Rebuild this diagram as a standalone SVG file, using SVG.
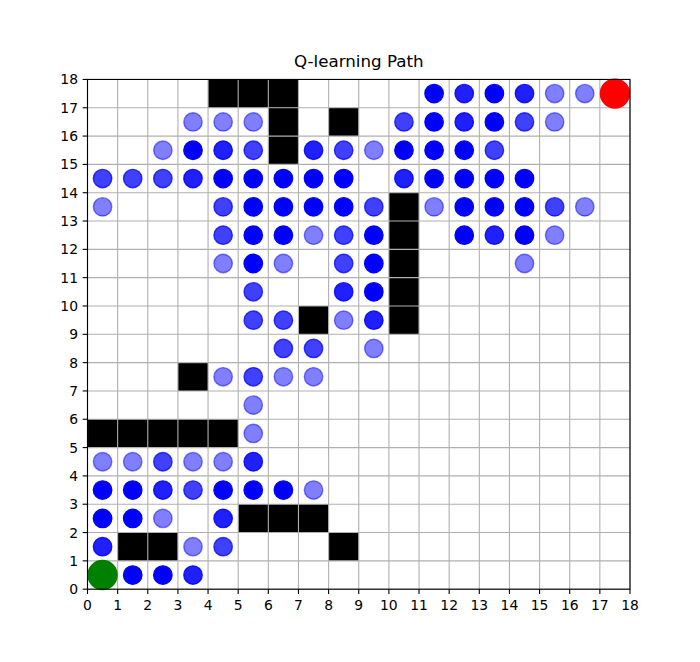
<svg xmlns="http://www.w3.org/2000/svg" width="700" height="662" viewBox="0 0 700 662">
<style>
text{font-family:"DejaVu Sans","Liberation Sans",sans-serif;fill:#000}
.tk{font-size:13.9px}
.xl{text-anchor:middle}
.yl{text-anchor:end}
.grid line{stroke:#b0b0b0;stroke-width:1.1}
.ticks line{stroke:#000;stroke-width:1.1}
.obs rect{fill:#000}
.dots circle{r:9.2px;stroke:#00f;stroke-width:1.39;fill:#00f}
.a1{fill-opacity:.5;stroke-opacity:.5}
.a2{fill-opacity:.75;stroke-opacity:.75}
.a3{fill-opacity:.875;stroke-opacity:.875}
.a4{fill-opacity:1;stroke-opacity:1}
</style>
<rect width="700" height="662" fill="#fff"/>
<text x="358.75" y="67" font-size="16.7" text-anchor="middle">Q-learning Path</text>
<g id="obstacles" class="obs">
<rect x="208.06" y="79.44" width="90.41" height="28.32"/>
<rect x="268.33" y="107.76" width="30.14" height="56.63"/>
<rect x="328.61" y="107.76" width="30.14" height="28.32"/>
<rect x="388.89" y="192.71" width="30.14" height="141.6"/>
<rect x="298.47" y="305.99" width="30.14" height="28.32"/>
<rect x="177.92" y="362.63" width="30.14" height="28.32"/>
<rect x="87.5" y="419.27" width="150.69" height="28.31"/>
<rect x="238.19" y="504.22" width="90.42" height="28.32"/>
<rect x="117.64" y="532.54" width="60.28" height="28.32"/>
<rect x="328.61" y="532.54" width="30.14" height="28.32"/>
</g>
<g id="grid" class="grid">
<line x1="87.5" y1="79.44" x2="87.5" y2="589.18"/>
<line x1="117.64" y1="79.44" x2="117.64" y2="589.18"/>
<line x1="147.78" y1="79.44" x2="147.78" y2="589.18"/>
<line x1="177.92" y1="79.44" x2="177.92" y2="589.18"/>
<line x1="208.06" y1="79.44" x2="208.06" y2="589.18"/>
<line x1="238.19" y1="79.44" x2="238.19" y2="589.18"/>
<line x1="268.33" y1="79.44" x2="268.33" y2="589.18"/>
<line x1="298.47" y1="79.44" x2="298.47" y2="589.18"/>
<line x1="328.61" y1="79.44" x2="328.61" y2="589.18"/>
<line x1="358.75" y1="79.44" x2="358.75" y2="589.18"/>
<line x1="388.89" y1="79.44" x2="388.89" y2="589.18"/>
<line x1="419.03" y1="79.44" x2="419.03" y2="589.18"/>
<line x1="449.17" y1="79.44" x2="449.17" y2="589.18"/>
<line x1="479.31" y1="79.44" x2="479.31" y2="589.18"/>
<line x1="509.44" y1="79.44" x2="509.44" y2="589.18"/>
<line x1="539.58" y1="79.44" x2="539.58" y2="589.18"/>
<line x1="569.72" y1="79.44" x2="569.72" y2="589.18"/>
<line x1="599.86" y1="79.44" x2="599.86" y2="589.18"/>
<line x1="630" y1="79.44" x2="630" y2="589.18"/>
<line x1="87.5" y1="589.18" x2="630" y2="589.18"/>
<line x1="87.5" y1="560.86" x2="630" y2="560.86"/>
<line x1="87.5" y1="532.54" x2="630" y2="532.54"/>
<line x1="87.5" y1="504.22" x2="630" y2="504.22"/>
<line x1="87.5" y1="475.9" x2="630" y2="475.9"/>
<line x1="87.5" y1="447.58" x2="630" y2="447.58"/>
<line x1="87.5" y1="419.27" x2="630" y2="419.27"/>
<line x1="87.5" y1="390.95" x2="630" y2="390.95"/>
<line x1="87.5" y1="362.63" x2="630" y2="362.63"/>
<line x1="87.5" y1="334.31" x2="630" y2="334.31"/>
<line x1="87.5" y1="305.99" x2="630" y2="305.99"/>
<line x1="87.5" y1="277.67" x2="630" y2="277.67"/>
<line x1="87.5" y1="249.35" x2="630" y2="249.35"/>
<line x1="87.5" y1="221.03" x2="630" y2="221.03"/>
<line x1="87.5" y1="192.71" x2="630" y2="192.71"/>
<line x1="87.5" y1="164.39" x2="630" y2="164.39"/>
<line x1="87.5" y1="136.08" x2="630" y2="136.08"/>
<line x1="87.5" y1="107.76" x2="630" y2="107.76"/>
<line x1="87.5" y1="79.44" x2="630" y2="79.44"/>
</g>
<g id="path" class="dots">
<!-- row 17 -->
<circle cx="434.1" cy="93.6" class="a4"/><circle cx="464.24" cy="93.6" class="a3"/><circle cx="494.38" cy="93.6" class="a4"/><circle cx="524.51" cy="93.6" class="a3"/><circle cx="554.65" cy="93.6" class="a1"/><circle cx="584.79" cy="93.6" class="a1"/>
<!-- row 16 -->
<circle cx="192.99" cy="121.92" class="a1"/><circle cx="223.13" cy="121.92" class="a1"/><circle cx="253.26" cy="121.92" class="a1"/><circle cx="403.96" cy="121.92" class="a2"/><circle cx="434.1" cy="121.92" class="a4"/><circle cx="464.24" cy="121.92" class="a3"/><circle cx="494.38" cy="121.92" class="a4"/><circle cx="524.51" cy="121.92" class="a2"/><circle cx="554.65" cy="121.92" class="a1"/>
<!-- row 15 -->
<circle cx="162.85" cy="150.23" class="a1"/><circle cx="192.99" cy="150.23" class="a4"/><circle cx="223.13" cy="150.23" class="a3"/><circle cx="253.26" cy="150.23" class="a2"/><circle cx="313.54" cy="150.23" class="a3"/><circle cx="343.68" cy="150.23" class="a2"/><circle cx="373.82" cy="150.23" class="a1"/><circle cx="403.96" cy="150.23" class="a4"/><circle cx="434.1" cy="150.23" class="a4"/><circle cx="464.24" cy="150.23" class="a4"/><circle cx="494.38" cy="150.23" class="a2"/>
<!-- row 14 -->
<circle cx="102.57" cy="178.55" class="a2"/><circle cx="132.71" cy="178.55" class="a2"/><circle cx="162.85" cy="178.55" class="a2"/><circle cx="192.99" cy="178.55" class="a3"/><circle cx="223.13" cy="178.55" class="a4"/><circle cx="253.26" cy="178.55" class="a4"/><circle cx="283.4" cy="178.55" class="a4"/><circle cx="313.54" cy="178.55" class="a4"/><circle cx="343.68" cy="178.55" class="a4"/><circle cx="403.96" cy="178.55" class="a3"/><circle cx="434.1" cy="178.55" class="a4"/><circle cx="464.24" cy="178.55" class="a4"/><circle cx="494.38" cy="178.55" class="a4"/><circle cx="524.51" cy="178.55" class="a4"/>
<!-- row 13 -->
<circle cx="102.57" cy="206.87" class="a1"/><circle cx="223.13" cy="206.87" class="a2"/><circle cx="253.26" cy="206.87" class="a4"/><circle cx="283.4" cy="206.87" class="a4"/><circle cx="313.54" cy="206.87" class="a4"/><circle cx="343.68" cy="206.87" class="a4"/><circle cx="373.82" cy="206.87" class="a2"/><circle cx="434.1" cy="206.87" class="a1"/><circle cx="464.24" cy="206.87" class="a4"/><circle cx="494.38" cy="206.87" class="a4"/><circle cx="524.51" cy="206.87" class="a4"/><circle cx="554.65" cy="206.87" class="a2"/><circle cx="584.79" cy="206.87" class="a1"/>
<!-- row 12 -->
<circle cx="223.13" cy="235.19" class="a2"/><circle cx="253.26" cy="235.19" class="a4"/><circle cx="283.4" cy="235.19" class="a4"/><circle cx="313.54" cy="235.19" class="a1"/><circle cx="343.68" cy="235.19" class="a2"/><circle cx="373.82" cy="235.19" class="a4"/><circle cx="464.24" cy="235.19" class="a4"/><circle cx="494.38" cy="235.19" class="a3"/><circle cx="524.51" cy="235.19" class="a4"/><circle cx="554.65" cy="235.19" class="a1"/>
<!-- row 11 -->
<circle cx="223.13" cy="263.51" class="a1"/><circle cx="253.26" cy="263.51" class="a4"/><circle cx="283.4" cy="263.51" class="a1"/><circle cx="343.68" cy="263.51" class="a2"/><circle cx="373.82" cy="263.51" class="a4"/><circle cx="524.51" cy="263.51" class="a1"/>
<!-- row 10 -->
<circle cx="253.26" cy="291.83" class="a2"/><circle cx="343.68" cy="291.83" class="a3"/><circle cx="373.82" cy="291.83" class="a4"/>
<!-- row 9 -->
<circle cx="253.26" cy="320.15" class="a2"/><circle cx="283.4" cy="320.15" class="a2"/><circle cx="343.68" cy="320.15" class="a1"/><circle cx="373.82" cy="320.15" class="a3"/>
<!-- row 8 -->
<circle cx="283.4" cy="348.47" class="a2"/><circle cx="313.54" cy="348.47" class="a2"/><circle cx="373.82" cy="348.47" class="a1"/>
<!-- row 7 -->
<circle cx="223.13" cy="376.79" class="a1"/><circle cx="253.26" cy="376.79" class="a2"/><circle cx="283.4" cy="376.79" class="a1"/><circle cx="313.54" cy="376.79" class="a1"/>
<!-- row 6 -->
<circle cx="253.26" cy="405.11" class="a1"/>
<!-- row 5 -->
<circle cx="253.26" cy="433.42" class="a1"/>
<!-- row 4 -->
<circle cx="102.57" cy="461.74" class="a1"/><circle cx="132.71" cy="461.74" class="a1"/><circle cx="162.85" cy="461.74" class="a2"/><circle cx="192.99" cy="461.74" class="a1"/><circle cx="223.13" cy="461.74" class="a1"/><circle cx="253.26" cy="461.74" class="a3"/>
<!-- row 3 -->
<circle cx="102.57" cy="490.06" class="a4"/><circle cx="132.71" cy="490.06" class="a4"/><circle cx="162.85" cy="490.06" class="a3"/><circle cx="192.99" cy="490.06" class="a2"/><circle cx="223.13" cy="490.06" class="a4"/><circle cx="253.26" cy="490.06" class="a4"/><circle cx="283.4" cy="490.06" class="a4"/><circle cx="313.54" cy="490.06" class="a1"/>
<!-- row 2 -->
<circle cx="102.57" cy="518.38" class="a4"/><circle cx="132.71" cy="518.38" class="a4"/><circle cx="162.85" cy="518.38" class="a1"/><circle cx="223.13" cy="518.38" class="a3"/>
<!-- row 1 -->
<circle cx="102.57" cy="546.7" class="a3"/><circle cx="192.99" cy="546.7" class="a1"/><circle cx="223.13" cy="546.7" class="a2"/>
<!-- row 0 -->
<circle cx="132.71" cy="575.02" class="a4"/><circle cx="162.85" cy="575.02" class="a4"/><circle cx="192.99" cy="575.02" class="a3"/>
</g>
<g id="start"><circle cx="102.57" cy="575.02" r="14.5" fill="#008000" stroke="#008000" stroke-width="1.39"/></g>
<g id="goal"><circle cx="614.93" cy="93.6" r="14.5" fill="#f00" stroke="#f00" stroke-width="1.39"/></g>
<g id="spines"><rect x="87.5" y="79.44" width="542.5" height="509.74" fill="none" stroke="#000" stroke-width="1.1"/></g>
<g id="ticks" class="ticks">
<line x1="87.5" y1="589.18" x2="87.5" y2="594"/><line x1="117.64" y1="589.18" x2="117.64" y2="594"/><line x1="147.78" y1="589.18" x2="147.78" y2="594"/><line x1="177.92" y1="589.18" x2="177.92" y2="594"/><line x1="208.06" y1="589.18" x2="208.06" y2="594"/><line x1="238.19" y1="589.18" x2="238.19" y2="594"/><line x1="268.33" y1="589.18" x2="268.33" y2="594"/><line x1="298.47" y1="589.18" x2="298.47" y2="594"/><line x1="328.61" y1="589.18" x2="328.61" y2="594"/><line x1="358.75" y1="589.18" x2="358.75" y2="594"/><line x1="388.89" y1="589.18" x2="388.89" y2="594"/><line x1="419.03" y1="589.18" x2="419.03" y2="594"/><line x1="449.17" y1="589.18" x2="449.17" y2="594"/><line x1="479.31" y1="589.18" x2="479.31" y2="594"/><line x1="509.44" y1="589.18" x2="509.44" y2="594"/><line x1="539.58" y1="589.18" x2="539.58" y2="594"/><line x1="569.72" y1="589.18" x2="569.72" y2="594"/><line x1="599.86" y1="589.18" x2="599.86" y2="594"/><line x1="630" y1="589.18" x2="630" y2="594"/>
<line x1="82.64" y1="589.18" x2="87.5" y2="589.18"/><line x1="82.64" y1="560.86" x2="87.5" y2="560.86"/><line x1="82.64" y1="532.54" x2="87.5" y2="532.54"/><line x1="82.64" y1="504.22" x2="87.5" y2="504.22"/><line x1="82.64" y1="475.9" x2="87.5" y2="475.9"/><line x1="82.64" y1="447.58" x2="87.5" y2="447.58"/><line x1="82.64" y1="419.27" x2="87.5" y2="419.27"/><line x1="82.64" y1="390.95" x2="87.5" y2="390.95"/><line x1="82.64" y1="362.63" x2="87.5" y2="362.63"/><line x1="82.64" y1="334.31" x2="87.5" y2="334.31"/><line x1="82.64" y1="305.99" x2="87.5" y2="305.99"/><line x1="82.64" y1="277.67" x2="87.5" y2="277.67"/><line x1="82.64" y1="249.35" x2="87.5" y2="249.35"/><line x1="82.64" y1="221.03" x2="87.5" y2="221.03"/><line x1="82.64" y1="192.71" x2="87.5" y2="192.71"/><line x1="82.64" y1="164.39" x2="87.5" y2="164.39"/><line x1="82.64" y1="136.08" x2="87.5" y2="136.08"/><line x1="82.64" y1="107.76" x2="87.5" y2="107.76"/><line x1="82.64" y1="79.44" x2="87.5" y2="79.44"/>
</g>
<g id="xlabels" class="tk xl">
<text x="87.5" y="609.5">0</text><text x="117.64" y="609.5">1</text><text x="147.78" y="609.5">2</text><text x="177.92" y="609.5">3</text><text x="208.06" y="609.5">4</text><text x="238.19" y="609.5">5</text><text x="268.33" y="609.5">6</text><text x="298.47" y="609.5">7</text><text x="328.61" y="609.5">8</text><text x="358.75" y="609.5">9</text><text x="388.89" y="609.5">10</text><text x="419.03" y="609.5">11</text><text x="449.17" y="609.5">12</text><text x="479.31" y="609.5">13</text><text x="509.44" y="609.5">14</text><text x="539.58" y="609.5">15</text><text x="569.72" y="609.5">16</text><text x="599.86" y="609.5">17</text><text x="630" y="609.5">18</text>
</g>
<g id="ylabels" class="tk yl">
<text x="78" y="594.2">0</text><text x="78" y="565.9">1</text><text x="78" y="537.6">2</text><text x="78" y="509.2">3</text><text x="78" y="480.9">4</text><text x="78" y="452.6">5</text><text x="78" y="424.3">6</text><text x="78" y="396">7</text><text x="78" y="367.6">8</text><text x="78" y="339.3">9</text><text x="78" y="311">10</text><text x="78" y="282.7">11</text><text x="78" y="254.4">12</text><text x="78" y="226">13</text><text x="78" y="197.7">14</text><text x="78" y="169.4">15</text><text x="78" y="141.1">16</text><text x="78" y="112.8">17</text><text x="78" y="84.4">18</text>
</g>
</svg>
